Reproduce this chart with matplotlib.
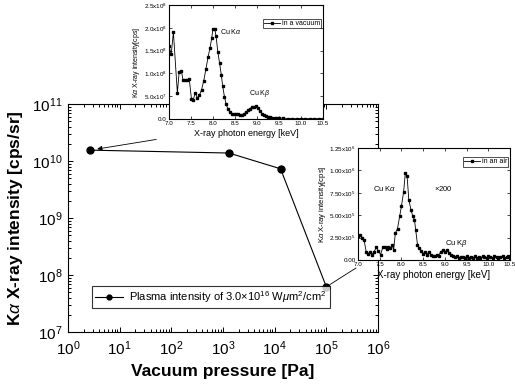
import matplotlib
matplotlib.use("Agg")
import matplotlib.pyplot as plt
from matplotlib.ticker import LogLocator, MultipleLocator, FixedLocator, FixedFormatter, NullFormatter

# ---------------- data ----------------
pressure = [2.7, 1.3e3, 1.3e4, 1.0e5]
intensity = [1.55e10, 1.38e10, 7.3e9, 6.2e7]

vac_E = [7.00, 7.05, 7.10, 7.19, 7.23, 7.28, 7.32, 7.37, 7.42, 7.46, 7.51, 7.55, 7.60,
         7.64, 7.69, 7.74, 7.79, 7.84, 7.89, 7.93, 7.97, 8.00, 8.04, 8.07, 8.11, 8.15,
         8.19, 8.22, 8.26, 8.30, 8.34, 8.39, 8.43, 8.48, 8.52, 8.57, 8.61, 8.66, 8.70,
         8.75, 8.80, 8.84, 8.89, 8.93, 8.98, 9.02, 9.07, 9.11, 9.16, 9.21, 9.25, 9.30,
         9.35, 9.40, 9.45, 9.50, 9.60, 9.70, 9.80, 9.90, 10.0, 10.1, 10.2, 10.3, 10.4, 10.5]
vac_I = [1.60, 1.42, 1.90, 0.57, 1.02, 1.06, 0.85, 0.85, 0.85, 0.88, 0.44, 0.42, 0.58,
         0.46, 0.52, 0.64, 0.84, 1.10, 1.37, 1.55, 1.77, 1.98, 1.98, 1.81, 1.47, 1.22,
         0.96, 0.72, 0.49, 0.32, 0.22, 0.15, 0.12, 0.11, 0.10, 0.10, 0.09, 0.09, 0.11,
         0.15, 0.20, 0.23, 0.26, 0.27, 0.29, 0.25, 0.18, 0.12, 0.08, 0.06, 0.05, 0.04,
         0.03, 0.03, 0.02, 0.02, 0.02, 0.01, 0.01, 0.01, 0.01, 0.01, 0.01, 0.01, 0.01, 0.01]

air_E = [7.00, 7.04, 7.10, 7.14, 7.19, 7.23, 7.28, 7.32, 7.37, 7.42, 7.47, 7.52, 7.57,
         7.62, 7.66, 7.70, 7.74, 7.79, 7.82, 7.86, 7.91, 7.96, 8.00, 8.05, 8.09, 8.13,
         8.17, 8.22, 8.26, 8.30, 8.33, 8.37, 8.41, 8.45, 8.50, 8.54, 8.59, 8.63, 8.68,
         8.73, 8.77, 8.82, 8.86, 8.90, 8.95, 9.00, 9.05, 9.09, 9.14, 9.18, 9.23, 9.28,
         9.32, 9.37, 9.41, 9.46, 9.50, 9.55, 9.60, 9.64, 9.69, 9.73, 9.78, 9.82, 9.87,
         9.91, 9.96, 10.00, 10.05, 10.10, 10.14, 10.19, 10.23, 10.28, 10.33, 10.37,
         10.42, 10.46, 10.50]
air_I = [0.27, 0.28, 0.25, 0.22, 0.09, 0.07, 0.09, 0.06, 0.09, 0.14, 0.10, 0.06, 0.14,
         0.15, 0.12, 0.15, 0.13, 0.17, 0.11, 0.30, 0.35, 0.49, 0.60, 0.76, 0.97, 0.94,
         0.67, 0.56, 0.49, 0.45, 0.33, 0.17, 0.13, 0.10, 0.07, 0.09, 0.06, 0.09, 0.06,
         0.05, 0.04, 0.06, 0.05, 0.09, 0.11, 0.09, 0.11, 0.08, 0.06, 0.05, 0.03, 0.04,
         0.02, 0.03, 0.03, 0.02, 0.04, 0.02, 0.03, 0.02, 0.04, 0.02, 0.03, 0.02, 0.04,
         0.03, 0.02, 0.04, 0.03, 0.02, 0.04, 0.03, 0.02, 0.03, 0.04, 0.02, 0.03, 0.04, 0.02]

inset_xticks = [7.0, 7.5, 8.0, 8.5, 9.0, 9.5, 10.0, 10.5]
inset_xticklabels = ["7.0", "7.5", "8.0", "8.5", "9.0", "9.5", "10.0", "10.5"]
vac_yticks = [0.0, 0.5, 1.0, 1.5, 2.0, 2.5]
vac_yticklabels = ["0.0", "5.0x10$^7$", "1.0x10$^8$", "1.5x10$^8$", "2.0x10$^8$", "2.5x10$^8$"]
air_yticks = [0.0, 0.25, 0.5, 0.75, 1.0, 1.25]
air_yticklabels = ["0.00", "2.50x10$^5$", "5.00x10$^5$", "7.50x10$^5$", "1.00x10$^6$", "1.25x10$^6$"]

plt.rcParams['font.family'] = ['Liberation Sans', 'DejaVu Sans']
plt.rcParams['mathtext.fontset'] = 'custom'
plt.rcParams['mathtext.rm'] = 'Liberation Sans'
plt.rcParams['mathtext.it'] = 'Liberation Sans:italic'
plt.rcParams['mathtext.bf'] = 'Liberation Sans:bold'

fig = plt.figure(figsize=(5.15, 3.89), dpi=100)
W, H = 515.0, 389.0

def fr(x0, y0, x1, y1):
    return [x0 / W, 1 - y1 / H, (x1 - x0) / W, (y1 - y0) / H]

# ---------------- main axes ----------------
ax = fig.add_axes(fr(68, 104, 378, 332))
ax.plot(pressure, intensity, '-o', color='black', lw=0.8, ms=5,
        label="Plasma intensity of 3.0$\\times$10$^{16}$ W$\\mu$m$^2$/cm$^2$")
ax.set_xscale('log')
ax.set_yscale('log')
ax.set_xlim(1, 1e6)
ax.set_ylim(1e7, 1e11)
ax.xaxis.set_major_locator(LogLocator(base=10, numticks=10))
ax.yaxis.set_major_locator(LogLocator(base=10, numticks=10))
ax.xaxis.set_minor_locator(LogLocator(base=10, subs=range(2, 10), numticks=20))
ax.yaxis.set_minor_locator(LogLocator(base=10, subs=range(2, 10), numticks=20))
ax.xaxis.set_minor_formatter(NullFormatter())
ax.yaxis.set_minor_formatter(NullFormatter())
ax.tick_params(which='both', direction='in', top=True, right=True, width=0.7)
ax.tick_params(which='major', length=3.5, labelsize=11)
ax.tick_params(axis='x', which='major', pad=5)
ax.tick_params(axis='y', which='major', pad=4)
ax.tick_params(which='minor', length=2)
for s in ax.spines.values():
    s.set_linewidth(0.8)
ax.set_xlabel("Vacuum pressure [Pa]", fontsize=12.5, fontweight='bold', labelpad=5)
ax.set_ylabel("K$\\alpha$ X-ray intensity [cps/sr]", fontsize=12.5, fontweight='bold', labelpad=5)
leg = ax.legend(loc='lower left', bbox_to_anchor=(0.06, 0.08), fontsize=8, frameon=True,
                fancybox=False, edgecolor='black', handlelength=2.5, borderpad=0.3,
                handletextpad=0.5, markerscale=0.7)
leg.get_frame().set_linewidth(0.8)

# arrows / connector lines
ax.annotate("", xy=(pressure[0], intensity[0]), xytext=(159 / W, 1 - 139 / H),
            textcoords='figure fraction',
            arrowprops=dict(arrowstyle='-|>', color='black', lw=0.6, shrinkB=5,
                            mutation_scale=7))
ax.annotate("", xy=(pressure[3], intensity[3]), xytext=(356 / W, 1 - 268 / H),
            textcoords='figure fraction',
            arrowprops=dict(arrowstyle='-', color='black', lw=0.6, shrinkB=3, shrinkA=0))

def style_inset(a, yticks, ylabels):
    a.set_xlim(7.0, 10.5)
    a.xaxis.set_major_locator(FixedLocator(inset_xticks))
    a.xaxis.set_major_formatter(FixedFormatter(inset_xticklabels))
    a.yaxis.set_major_locator(FixedLocator(yticks))
    a.yaxis.set_major_formatter(FixedFormatter(ylabels))
    a.set_ylim(yticks[0], yticks[-1])
    a.tick_params(direction='in', top=True, right=True, length=2, width=0.5,
                  labelsize=4.5, pad=1.5)
    for s in a.spines.values():
        s.set_linewidth(0.8)

# ---------------- inset 1 (vacuum) ----------------
a1 = fig.add_axes(fr(169, 5, 323, 119))
a1.plot(vac_E, vac_I, '-s', color='black', lw=0.6, ms=1.6, label='in a vacuum')
style_inset(a1, vac_yticks, vac_yticklabels)
a1.set_xlabel("X-ray photon energy [keV]", fontsize=6.5, labelpad=2)
a1.set_ylabel("K$\\alpha$ X-ray intensity[cps]", fontsize=5, labelpad=1)
a1.text(8.4, 1.91, "Cu K$\\alpha$", fontsize=5, ha='center', va='center')
a1.text(9.07, 0.56, "Cu K$\\beta$", fontsize=5, ha='center', va='center')
l1 = a1.legend(loc='upper right', bbox_to_anchor=(0.99, 0.88), fontsize=5, fancybox=False,
               edgecolor='black', handlelength=2.2, borderpad=0.2, handletextpad=0.3,
               borderaxespad=0)
l1.get_frame().set_linewidth(0.6)

# ---------------- inset 2 (air) ----------------
a2 = fig.add_axes(fr(358, 148, 510, 260))
a2.plot(air_E, air_I, '-s', color='black', lw=0.6, ms=1.6, label='in an air')
style_inset(a2, air_yticks, air_yticklabels)
a2.set_xlabel("X-ray photon energy [keV]", fontsize=7, labelpad=2)
a2.set_ylabel("K$\\alpha$ X-ray intensity[cps]", fontsize=5.5, labelpad=1)
a2.text(7.62, 0.80, "Cu K$\\alpha$", fontsize=5.5, ha='center', va='center')
a2.text(8.96, 0.80, "$\\times$200", fontsize=5.5, ha='center', va='center')
a2.text(9.27, 0.18, "Cu K$\\beta$", fontsize=5.5, ha='center', va='center')
l2 = a2.legend(loc='upper right', bbox_to_anchor=(0.99, 0.92), fontsize=5, fancybox=False,
               edgecolor='black', handlelength=2.2, borderpad=0.2, handletextpad=0.3,
               borderaxespad=0)
l2.get_frame().set_linewidth(0.6)

fig.savefig("out.png", dpi=100)
